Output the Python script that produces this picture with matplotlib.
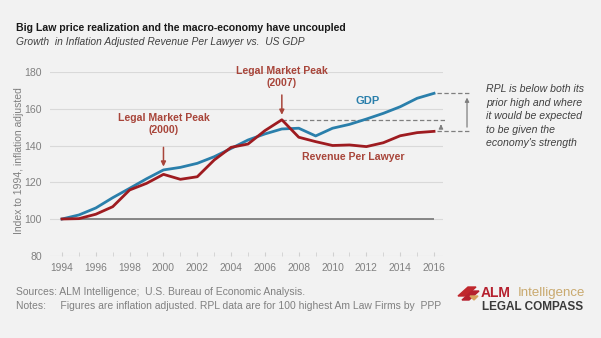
import matplotlib
matplotlib.use("Agg")
import matplotlib.pyplot as plt
from matplotlib.patches import Polygon

# --- data (index, 1994 = 100, inflation adjusted) ---
years = list(range(1994, 2017))
gdp = [100, 102.2, 106, 111.6, 116.7, 121.9, 126.7, 128.1, 130.3, 133.9, 138.4, 143,
       146.3, 149, 149.4, 145.2, 149.4, 151.5, 154.4, 157.5, 161.1, 165.7, 168.4]
rpl = [100, 100.2, 102.6, 106.7, 115.8, 119.4, 124.3, 121.6, 123, 132.1, 139, 140.8,
       148.1, 154, 144.5, 142.1, 140, 140.3, 139.4, 141.5, 145.3, 147, 147.7]
xtick_years = list(range(1994, 2017, 2))
ytick_vals = [80, 100, 120, 140, 160, 180]

BG = "#f2f2f2"
BLUE = "#2a7fab"
RED = "#9e1b20"
ANN = "#a8453a"
GREY = "#7f7f7f"
TXT = "#808080"

plt.rcParams["font.family"] = ["Liberation Sans", "DejaVu Sans"]

W, H = 601, 338
fig = plt.figure(figsize=(W / 100, H / 100), dpi=100, facecolor=BG)


def fx(px):
    return px / W


def fy(py):
    return 1 - py / H


ax = fig.add_axes([fx(50), fy(255.75), fx(443) - fx(50), fy(72) - fy(255.75)])
ax.set_facecolor(BG)
ax.set_xlim(1993.29, 2016.53)
ax.set_ylim(80, 180)

for v in ytick_vals:
    ax.axhline(v, color="#d9d9d9", lw=0.8, zorder=0)
ax.hlines(100, years[0], years[-1], color=GREY, lw=1.3, zorder=1)

ax.plot(years, gdp, color=BLUE, lw=2, zorder=3)
ax.plot(years, rpl, color=RED, lw=2, zorder=4)

for s in ax.spines.values():
    s.set_visible(False)
ax.set_xticks(xtick_years)
ax.set_xticks(years, minor=True)
ax.set_yticks(ytick_vals)
ax.tick_params(axis="x", which="both", length=3, color="#d0d0d0", direction="in",
               labelsize=7.4, labelcolor=TXT, pad=5)
ax.tick_params(axis="y", length=0, labelsize=7.6, labelcolor=TXT, pad=6)
ax.set_ylabel("Index to 1994, inflation adjusted", fontsize=7.5, color=TXT)
ax.yaxis.set_label_coords(-0.067, 0.516)

# peaks
i2000 = years.index(2000)
i2007 = years.index(2007)
ax.annotate("", xy=(2000, gdp[i2000] + 0.3), xytext=(2000, 140.5),
            arrowprops=dict(arrowstyle="-|>", color=ANN, lw=1.1, mutation_scale=7))
ax.text(2000, 151.7, "Legal Market Peak\n(2000)", color=ANN, fontsize=7.6, fontweight="bold",
        ha="center", va="center", linespacing=1.3)
ax.annotate("", xy=(2007, rpl[i2007] + 1.2), xytext=(2007, 169),
            arrowprops=dict(arrowstyle="-|>", color=ANN, lw=1.1, mutation_scale=7))
ax.text(2007, 177.3, "Legal Market Peak\n(2007)", color=ANN, fontsize=7.6, fontweight="bold",
        ha="center", va="center", linespacing=1.3, clip_on=False)

ax.text(2012.1, 164.2, "GDP", color=BLUE, fontsize=8, fontweight="bold", ha="center", va="center")
ax.text(2011.2, 133.7, "Revenue Per Lawyer", color=ANN, fontsize=7.6, fontweight="bold",
        ha="center", va="center")

# gap markers
peak = max(rpl)
dash = (0, (3.5, 2))
ax.plot([2007, 2016.65], [peak, peak], color=GREY, lw=0.9, ls=dash, clip_on=False)
ax.plot([2016.18, 2018.2], [gdp[-1], gdp[-1]], color=GREY, lw=0.9, ls=dash, clip_on=False)
ax.plot([2016.18, 2018.2], [rpl[-1], rpl[-1]], color=GREY, lw=0.9, ls=dash, clip_on=False)
ax.annotate("", xy=(2016.41, peak - 2.5), xytext=(2016.41, rpl[-1] + 0.8),
            arrowprops=dict(arrowstyle="-|>", color=GREY, lw=0.9, mutation_scale=6), annotation_clip=False)
ax.annotate("", xy=(2017.95, gdp[-1] - 0.8), xytext=(2017.95, rpl[-1] + 0.8),
            arrowprops=dict(arrowstyle="-|>", color=GREY, lw=0.9, mutation_scale=6), annotation_clip=False)

fig.text(fx(486), fy(84), "RPL is below both its\nprior high and where\nit would be expected\n"
         "to be given the\neconomy's strength", fontsize=7.6, style="italic", color="#404040",
         ha="left", va="top", linespacing=1.45)

# titles
fig.text(fx(16), fy(28), "Big Law price realization and the macro-economy have uncoupled",
         fontsize=7.6, fontweight="bold", color="#1a1a1a", ha="left", va="center")
fig.text(fx(16), fy(42), "Growth  in Inflation Adjusted Revenue Per Lawyer vs.  US GDP",
         fontsize=7.4, style="italic", color="#404040", ha="left", va="center")

# footer
fig.text(fx(16), fy(292), "Sources: ALM Intelligence;  U.S. Bureau of Economic Analysis.",
         fontsize=7.5, color=TXT, ha="left", va="center")
fig.text(fx(16), fy(306), "Notes:     Figures are inflation adjusted. RPL data are for 100 highest Am Law Firms by  PPP",
         fontsize=7.5, color=TXT, ha="left", va="center")

# logo
for pts, col in [
    ([(458, 296), (468, 287), (476, 287), (466, 296)], "#c0272d"),
    ([(462, 300), (472, 291), (479, 291), (469, 300)], "#b5202e"),
    ([(470, 296), (478, 296), (474, 300)], "#d8a25e"),
]:
    fig.add_artist(Polygon([(fx(a), fy(b)) for a, b in pts], closed=True, color=col,
                           transform=fig.transFigure))
fig.text(fx(481), fy(293), "ALM", fontsize=10, fontweight="bold", color="#b5202e", ha="left", va="center")
fig.text(fx(518), fy(293), "Intelligence", fontsize=9.5, color="#c9a96e", ha="left", va="center")
fig.text(fx(482), fy(307), "LEGAL COMPASS", fontsize=8.5, fontweight="bold", color="#3a3a3a",
         ha="left", va="center")

fig.savefig("out.png", dpi=100, facecolor=BG)
